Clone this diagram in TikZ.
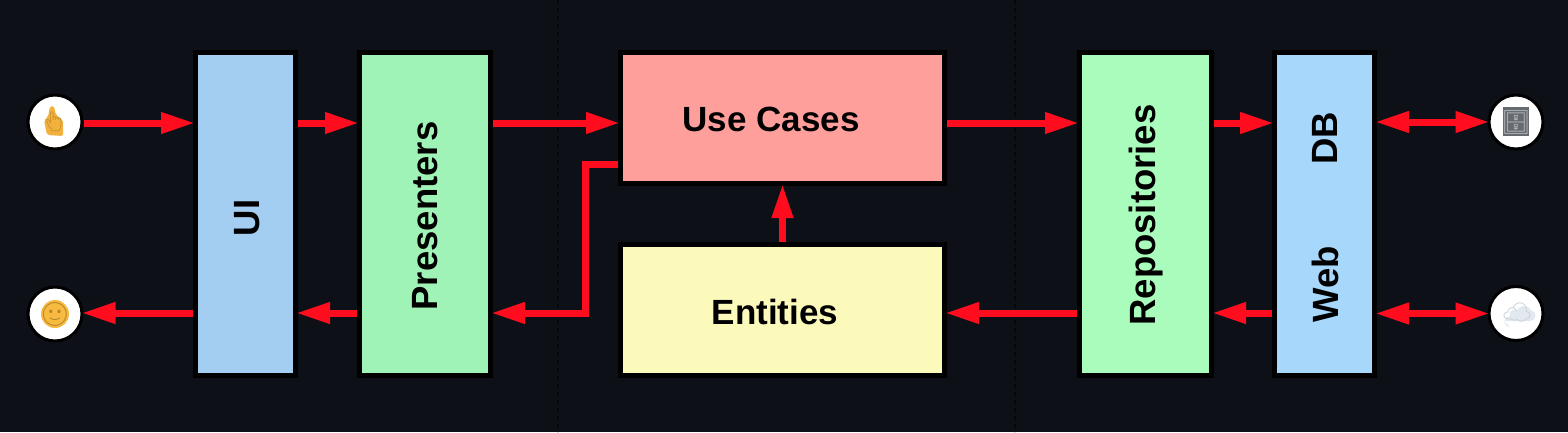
\documentclass[tikz,border=0pt]{standalone}
\usepackage{fontspec}
\setmainfont{Liberation Sans}
\newfontfamily\emojifont{Noto Emoji}
\usetikzlibrary{arrows.meta}
\definecolor{bgc}{HTML}{0D1117}
\definecolor{dotc}{HTML}{050709}
\definecolor{arrc}{HTML}{FF0D1E}
\definecolor{uic}{HTML}{A4CEF1}
\definecolor{prc}{HTML}{A0F3B6}
\definecolor{ucc}{HTML}{FF9F9C}
\definecolor{enc}{HTML}{FBFABB}
\definecolor{rec}{HTML}{AAFCBC}
\definecolor{dbc}{HTML}{A8D7FC}
\definecolor{handc}{HTML}{F2B13C}
\definecolor{facec}{HTML}{F7B93F}
\definecolor{cabc}{HTML}{666B70}
\definecolor{cloudc}{HTML}{E2E8F0}
\tikzset{
  box/.style={draw=black,line width=5pt,rectangle,inner sep=0pt},
  lab/.style={font=\fontsize{35}{35}\selectfont\bfseries,text=black,inner sep=0pt},
  vlab/.style={font=\fontsize{36.5}{36.5}\selectfont\bfseries,text=black,inner sep=0pt,rotate=90},
  badge/.style={circle,draw=black,line width=3pt,fill=white,minimum size=54pt,inner sep=0pt},
  emo/.style={font=\emojifont\fontsize{26}{26}\selectfont,inner sep=0pt},
  arr/.style={draw=arrc,line width=7pt,shorten >=-2pt,-{Triangle[length=34pt,width=20pt]}},
  arrtwo/.style={draw=arrc,line width=7pt,shorten >=-2pt,shorten <=-2pt,{Triangle[length=34pt,width=20pt]}-{Triangle[length=34pt,width=20pt]}},
  sep/.style={draw=dotc,line width=1.5pt,dash pattern=on 4pt off 4pt},
}
\begin{document}
\begin{tikzpicture}[x=1pt,y=-1pt]
\useasboundingbox (0,0) rectangle (1568,432);
\fill[bgc] (0,0) rectangle (1568,432);
\draw[sep] (558,0) -- (558,432);
\draw[sep] (1015,0) -- (1015,432);
% rows used by the connectors
\coordinate (rowA) at (0,123);
\coordinate (rowB) at (0,313);
\coordinate (rowC) at (0,164);
\coordinate (bend) at (585,0);
% boxes
\node[box,fill=uic,minimum width=100pt,minimum height=323pt] (ui) at (245.5,214) {};
\node[box,fill=prc,minimum width=131pt,minimum height=323pt] (pres) at (425,214) {};
\node[box,fill=ucc,minimum width=324pt,minimum height=131pt] (uc) at (782.5,118) {};
\node[box,fill=enc,minimum width=324pt,minimum height=131pt] (ent) at (782.5,310) {};
\node[box,fill=rec,minimum width=132pt,minimum height=323pt] (repo) at (1145.5,214) {};
\node[box,fill=dbc,minimum width=100pt,minimum height=323pt] (dbweb) at (1324.5,214) {};
% labels
\node[vlab] (uilab) at (247,218) {UI};
\node[vlab] (prlab) at (425,216) {Presenters};
\node[lab] (uclab) at (771,119) {Use Cases};
\node[lab] (enlab) at (775,312) {Entities};
\node[vlab] (relab) at (1146,215) {Repositories};
\node[vlab] (dblab) at (1325,138) {DB};
\node[vlab] (welab) at (1325,284) {Web};
% badges
\node[badge] (hand) at (55,122) {};
\node[badge] (face) at (55,314) {};
\node[badge] (cab) at (1516,122) {};
\node[badge] (cloud) at (1516,313.5) {};
% emoji
\fill[facec] (face) circle (14pt);
\fill[cabc] (1503,107) rectangle (1529,136);
\fill[cloudc] (1504,321) -- (1530,321) arc[start angle=-90,end angle=80,radius=5.5pt] arc[start angle=30,end angle=150,radius=8pt] arc[start angle=60,end angle=200,radius=5pt] arc[start angle=90,end angle=270,radius=5.5pt] -- cycle;
\fill[handc,rounded corners=2pt] (47,135) -- (44,120) -- (48,117) -- (50,106) -- (54,106) -- (56,115) -- (63,120) -- (63,136) -- cycle;
\node[emo,text=handc!80!black,scale=.75] (handem) at (54,122) {\char"1F446};
\node[emo,text=facec!70!black,scale=.9] (faceem) at (55,314) {\char"1F642};
\node[emo,text=cabc!50!white,scale=.9] (cabem) at (1516,122) {\char"1F5C4};
\node[emo,text=cloudc!90!black,scale=.9] (cloudem) at (1517,312) {\char"2601};
% connectors
\draw[arr] (hand.east |- rowA) -- (ui.west |- rowA);
\draw[arr] (ui.east |- rowA) -- (pres.west |- rowA);
\draw[arr] (pres.east |- rowA) -- (uc.west |- rowA);
\draw[arr] (uc.east |- rowA) -- (repo.west |- rowA);
\draw[arr] (repo.east |- rowA) -- (dbweb.west |- rowA);
\draw[arrtwo] (dbweb.east |- cab) -- (cab.west);
\draw[arrtwo] (dbweb.east |- cloud) -- (cloud.west);
\draw[arr] (ui.west |- rowB) -- (face.east |- rowB);
\draw[arr] (pres.west |- rowB) -- (ui.east |- rowB);
\draw[arr] (dbweb.west |- rowB) -- (repo.east |- rowB);
\draw[arr] (repo.west |- rowB) -- (ent.east |- rowB);
\draw[arr] (ent.north) -- (uc.south);
\draw[arr,line join=miter] (uc.west |- rowC) -- (bend |- rowC) -- (bend |- rowB) -- (pres.east |- rowB);
\end{tikzpicture}
\end{document}
